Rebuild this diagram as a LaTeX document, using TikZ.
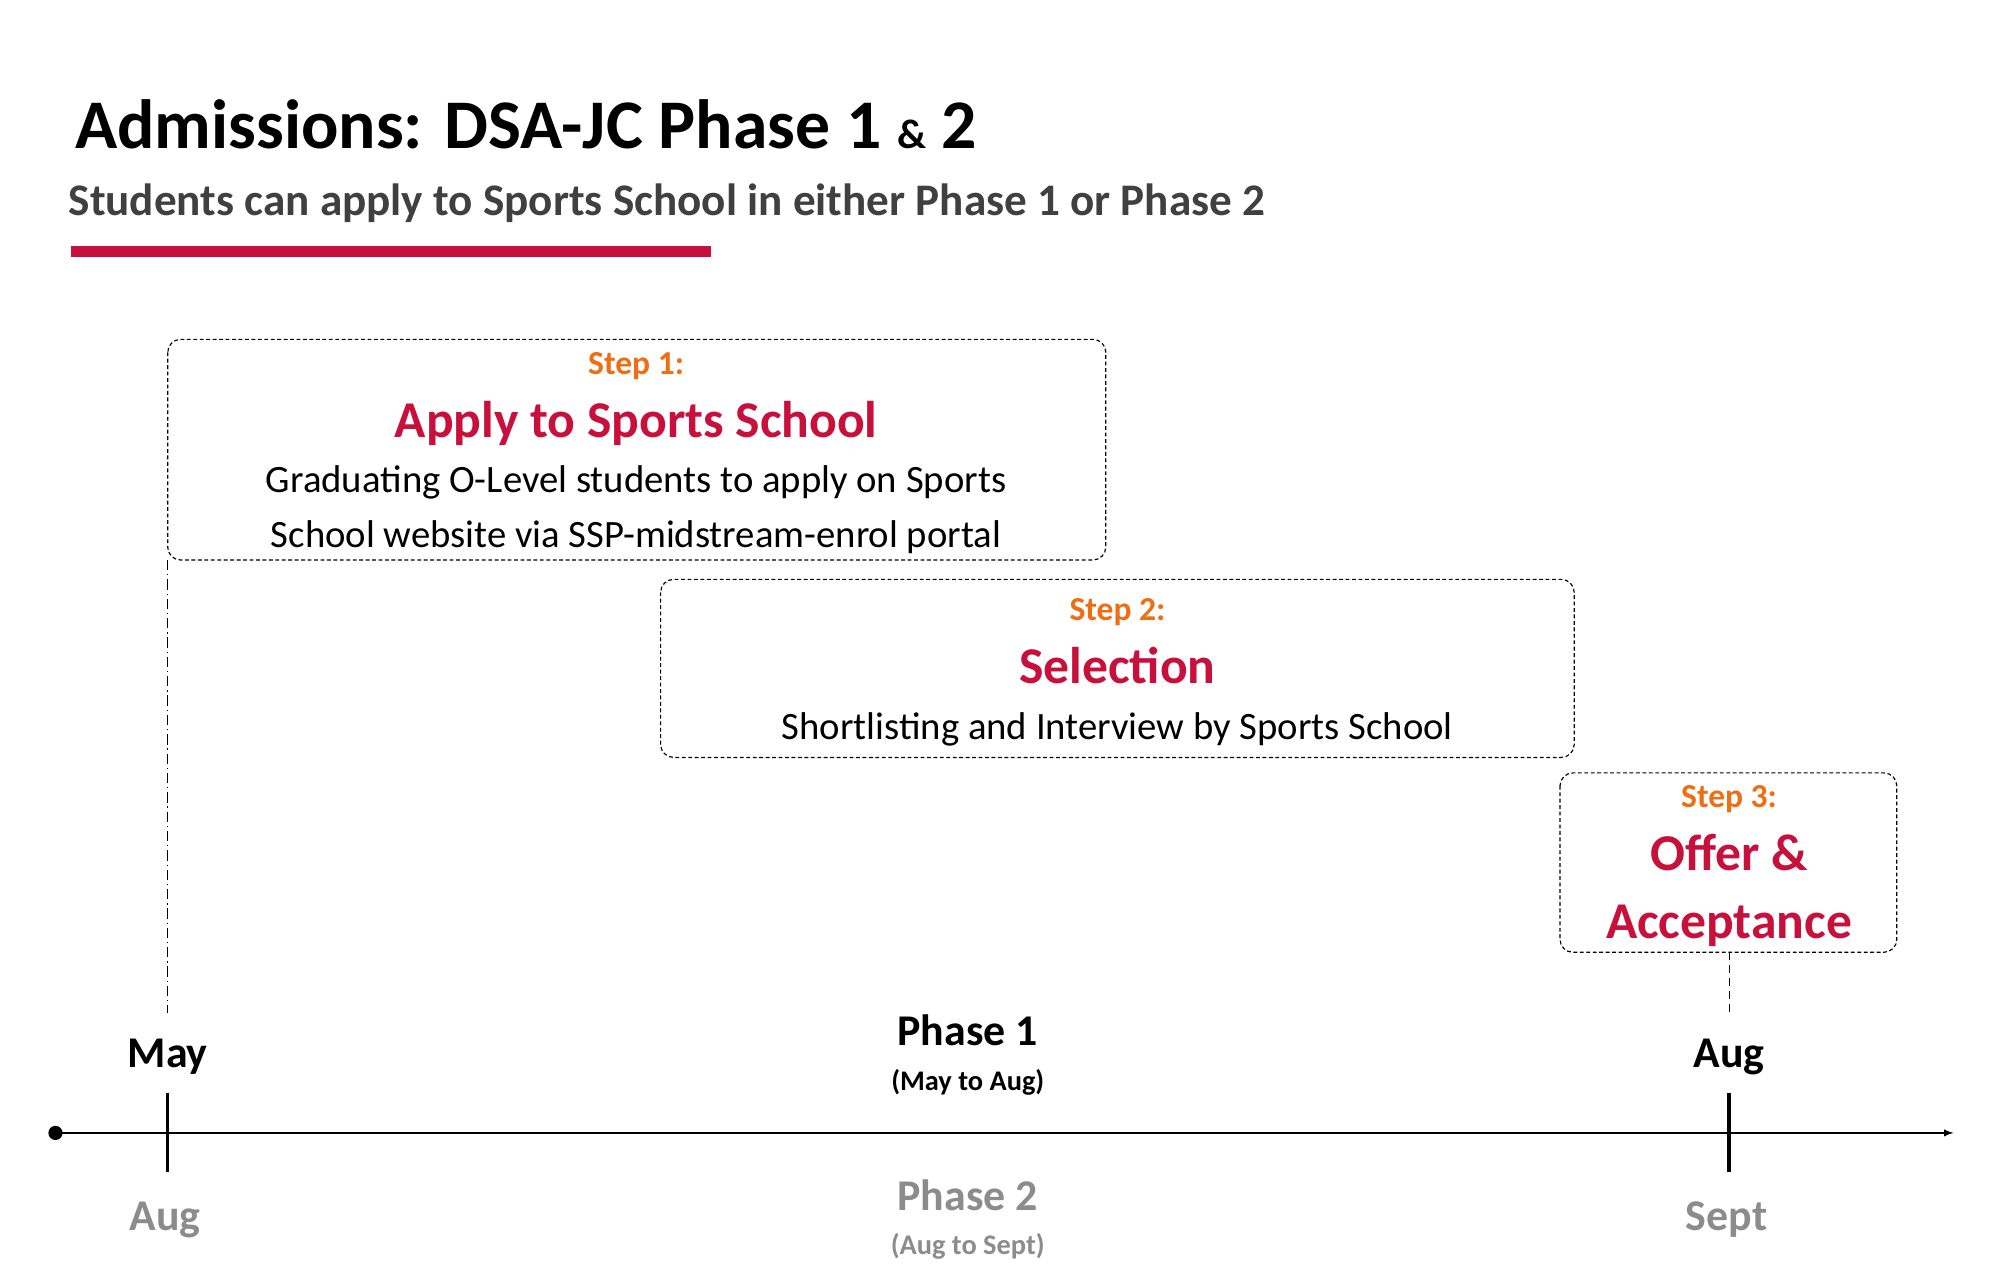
\documentclass[tikz,border=0pt]{standalone}
\usepackage{fontspec}
\setmainfont{Carlito}
\definecolor{crim}{RGB}{200,16,60}
\definecolor{orng}{RGB}{237,110,20}
\definecolor{dgray}{RGB}{64,64,64}
\definecolor{lgray}{RGB}{140,140,140}
\begin{document}
\begin{tikzpicture}[x=1pt,y=-1pt,
  stepbox/.style={draw,dashed,rounded corners=10pt,line width=0.9pt,dash pattern=on 3pt off 2pt},
  txt/.style={inner sep=0pt,anchor=base},
  stp/.style={txt,text=orng,font=\bfseries\fontsize{26}{30}\selectfont},
  ttl/.style={txt,text=crim,font=\bfseries\fontsize{40}{46}\selectfont},
  bdy/.style={txt,font=\fontsize{30}{34}\selectfont},
  mon/.style={txt,font=\bfseries\fontsize{34}{40}\selectfont},
  sml/.style={txt,font=\bfseries\fontsize{22}{26}\selectfont}]
\useasboundingbox (0,0) rectangle (1550,991);
\fill[white] (0,0) rectangle (1550,991);
\node[txt,anchor=base west,font=\bfseries\fontsize{54}{60}\selectfont] (title) at (58,115) {Admissions: DSA-JC Phase 1 {\fontsize{32}{36}\selectfont\&} 2};
\node[txt,anchor=base west,text=dgray,font=\bfseries\fontsize{35}{40}\selectfont] (sub) at (53,167) {Students can apply to Sports School in either Phase 1 or Phase 2};
\fill[crim] (55,191) rectangle (551,199);
% boxes
\draw[stepbox] (130,263) rectangle (857,434);
\coordinate (b1) at (130,434);
\node[stp] (s1) at (493,290) {Step 1:};
\node[ttl] (t1) at (493,339) {Apply to Sports School};
\node[bdy] (l1a) at (493,382) {Graduating O-Level students to apply on Sports};
\node[bdy] (l1b) at (493,424) {School website via SSP-midstream-enrol portal};
\draw[stepbox] (512,449) rectangle (1220,587);
\coordinate (b3) at (1340,738);
\node[stp] (s2) at (866,481) {Step 2:};
\node[ttl] (t2) at (866,530) {Selection};
\node[bdy] (l2) at (866,573) {Shortlisting and Interview by Sports School};
\draw[stepbox] (1209,599) rectangle (1470,738);
\node[stp] (s3) at (1340,626) {Step 3:};
\node[ttl] (t3a) at (1340,675) {Offer \&};
\node[ttl] (t3b) at (1340,727) {Acceptance};
% axis
\coordinate (a0) at (43,878);
\coordinate (a1) at (1514,878);
\coordinate (m1) at (130,785);
\coordinate (m2) at (1340,785);
\draw[line width=0.8pt,dash pattern=on 8pt off 3pt on 1pt off 3pt] (b1) -- (m1);
\draw[line width=0.8pt,dash pattern=on 6pt off 4pt] (b3) -- (m2);
\fill (a0) circle (5.5);
\draw[line width=1.5pt,-latex] (a0) -- (a1);
\draw[line width=2.5pt] (130,847) -- (130,908);
\draw[line width=2.5pt] (1340,847) -- (1340,908);
\node[mon] (may) at (130,827) {May};
\node[mon] (aug1) at (1340,827) {Aug};
\node[mon] (p1) at (750,810) {Phase 1};
\node[sml] (p1s) at (750,845) {(May to Aug)};
\node[mon,text=lgray] (aug2) at (128,954) {Aug};
\node[mon,text=lgray] (p2) at (750,938) {Phase 2};
\node[sml,text=lgray] (p2s) at (750,972) {(Aug to Sept)};
\node[mon,text=lgray] (sept) at (1338,954) {Sept};
\end{tikzpicture}
\end{document}
